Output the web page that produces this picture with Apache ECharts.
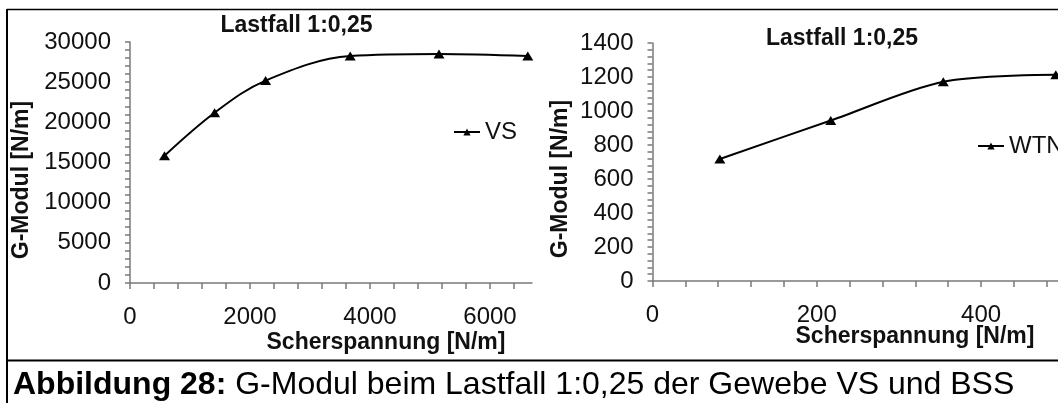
<!DOCTYPE html>
<html>
<head>
<meta charset="utf-8">
<script src="https://cdn.jsdelivr.net/npm/echarts@6/dist/echarts.min.js"></script>
<style>
html,body{margin:0;padding:0;background:#fff;overflow:hidden;}
#chart{width:1130px;height:403px;}
</style>
</head>
<body>
<div id="chart"></div>
<script>
// G-Modul over Scherspannung, Lastfall 1:0,25
var vsX=[575,1410,2260,3670,5150,6630];
var vsY=[15850,21200,25200,28250,28500,28250];
var wtnX=[82,217,354,491];
var wtnY=[718,944,1172,1213];
var leftXLabels=[0,2000,4000,6000];
var leftYLabels=[0,5000,10000,15000,20000,25000,30000];
var rightXLabels=[0,200,400];
var rightYLabels=[0,200,400,600,800,1000,1200,1400];

var font='"Liberation Sans", Arial, sans-serif';
var axisCol='#7a7a7a';

function steps(max,step){
    var a=[];
    for(var v=0;v<=max;v+=step)a.push(v);
    return a;
}
function pairs(xs,ys){
    var d=[];
    for(var i=0;i<xs.length;i++)d.push([xs[i],ys[i]]);
    return d;
}
function plain(v){return String(v);}
function xAx(idx,max,labels,ticks){
    return {
        type:'value',gridIndex:idx,min:0,max:max,
        axisLine:{onZero:false,lineStyle:{color:axisCol,width:1.5}},
        axisTick:{customValues:ticks,length:6,lineStyle:{color:axisCol,width:1.5}},
        axisLabel:{customValues:labels,margin:22,color:'#111',fontSize:24,fontFamily:font,formatter:plain},
        splitLine:{show:false}
    };
}
function yAx(idx,max,labels,ticks){
    return {
        type:'value',gridIndex:idx,min:0,max:max,
        axisLine:{show:true,lineStyle:{color:axisCol,width:1.5}},
        axisTick:{show:true,customValues:ticks,length:5,lineStyle:{color:axisCol,width:1.5}},
        axisLabel:{customValues:labels,margin:19,color:'#111',fontSize:24,fontFamily:font,formatter:plain},
        splitLine:{show:false}
    };
}
function txt(t,x,y,size,rot){
    return {
        type:'text',x:x,y:y,rotation:rot||0,
        style:{text:t,fill:'#111',font:'bold '+size+'px '+font,
            textAlign:'center',textVerticalAlign:'middle',align:'center',verticalAlign:'middle'}
    };
}
function line(x1,y1,x2,y2,w){
    return {type:'line',shape:{x1:x1,y1:y1,x2:x2,y2:y2},style:{stroke:'#000',lineWidth:w}};
}
function ser(name,idx,data,smooth){
    return {
        name:name,type:'line',xAxisIndex:idx,yAxisIndex:idx,data:data,
        smooth:smooth,symbol:'triangle',symbolSize:[11,9],showSymbol:true,
        color:'#000',lineStyle:{color:'#000',width:2},itemStyle:{color:'#000'},
        animation:false,clip:false
    };
}
function leg(name,left,top){
    return {
        data:[name],left:left,top:top,padding:0,itemWidth:26,itemHeight:9,
        textStyle:{color:'#111',fontSize:24,fontFamily:font},
        selectedMode:false
    };
}

var chart=echarts.init(document.getElementById('chart'),null,{renderer:'canvas'});
chart.setOption({
    backgroundColor:'#fff',
    animation:false,
    grid:[
        {left:130,top:42,width:402,height:241},
        {left:652.5,top:43,width:460,height:238}
    ],
    xAxis:[
        xAx(0,6700,leftXLabels,steps(6400,400)),
        xAx(1,560,rightXLabels,steps(560,40))
    ],
    yAxis:[
        yAx(0,30000,leftYLabels,steps(30000,1000)),
        yAx(1,1400,rightYLabels,steps(1400,40))
    ],
    legend:[leg('VS',453,120),leg('WTN',977,134)],
    series:[
        ser('VS',0,pairs(vsX,vsY),0.35),
        ser('WTN',1,pairs(wtnX,wtnY),0.3)
    ],
    graphic:[
        line(7,9.5,1130,9.5,1.5),
        line(7,9,7,403,2),
        line(7,360.5,1130,360.5,2),
        txt('Lastfall 1:0,25',296.5,26,23),
        txt('Lastfall 1:0,25',842,38.5,23),
        txt('G-Modul [N/m]',21.6,180,23,Math.PI/2),
        txt('G-Modul [N/m]',560.2,179,23,Math.PI/2),
        txt('Scherspannung [N/m]',386,343,23),
        txt('Scherspannung [N/m]',915,337,23),
        {
            type:'text',x:13,y:385,
            style:{text:'{b|Abbildung 28:} G-Modul beim Lastfall 1:0,25 der Gewebe VS und BSS',
                fill:'#000',font:'32px '+font,textVerticalAlign:'middle',verticalAlign:'middle',
                rich:{b:{fontWeight:'bold',fontSize:32,fontFamily:font,fill:'#000'}}}
        }
    ]
});
</script>
</body>
</html>
